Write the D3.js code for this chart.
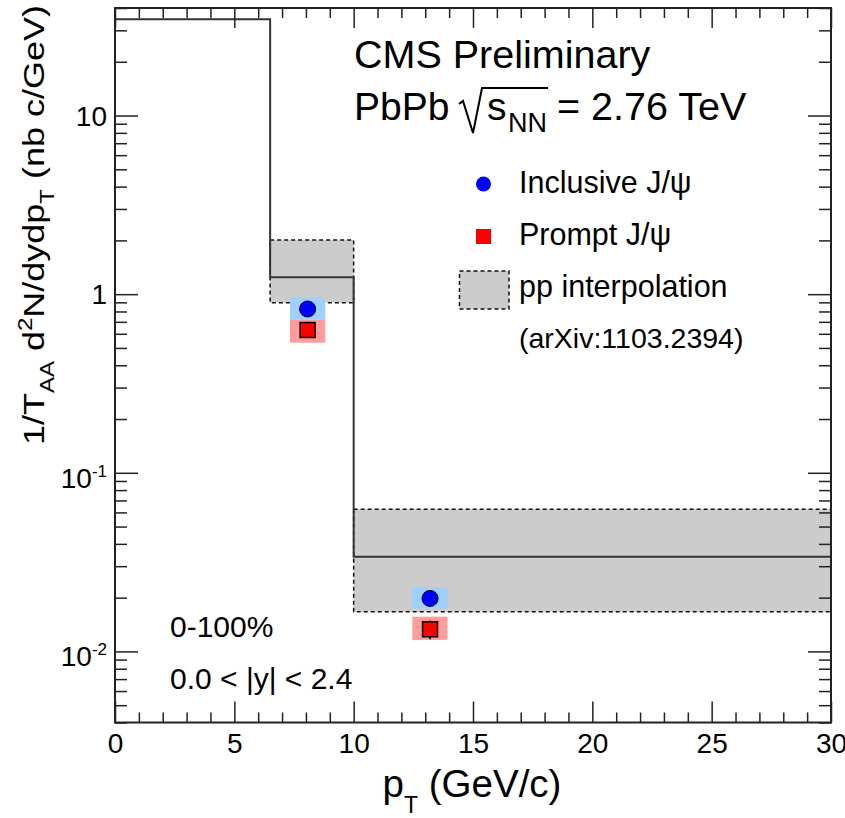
<!DOCTYPE html>
<html>
<head>
<meta charset="utf-8">
<script src="https://cdn.jsdelivr.net/npm/d3@7"></script>
<style>
  html, body { margin: 0; padding: 0; background: #fff; }
  svg { display: block; }
  text { font-family: "Liberation Sans", Arial, Helvetica, sans-serif; fill: #000; }
</style>
</head>
<body>
<svg id="chart" width="845" height="818"></svg>
<script>
// ---------------- data ----------------
const xDomain = [0, 30];
const yDomain = [0.004, 40];

// pp interpolation histogram (bin edges, central values and band)
const ppEdges   = [0, 6.5, 10, 30];
const ppCentral = [34.6, 1.243, 0.0339];
const ppLow     = [null, 0.896, 0.0167];
const ppHigh    = [null, 2.01, 0.0625];

// PbPb points
const ptPoints    = [8.07, 13.2];
const systXLow    = [7.33, 12.46];
const systXHigh   = [8.81, 13.93];

const inclusive       = [0.826, 0.0198];
const inclStatLow     = [0.80, 0.0190];
const inclStatHigh    = [0.85, 0.0206];
const inclSystLow     = [0.723, 0.0174];
const inclSystHigh    = [0.960, 0.0229];

const prompt          = [0.630, 0.0133];
const promptStatLow   = [0.60, 0.0117];
const promptStatHigh  = [0.66, 0.0149];
const promptSystLow   = [0.535, 0.0116];
const promptSystHigh  = [0.723, 0.01565];

// axis ticks
const xMajorTicks = [0, 5, 10, 15, 20, 25, 30];
const xTickLabels = ["0", "5", "10", "15", "20", "25", "30"];
const yMajorTicks = [0.01, 0.1, 1, 10];
const yTickBase   = ["10", "10", "1", "10"];
const yTickExp    = ["-2", "-1", "", ""];

// legend
const legendLabels = ["Inclusive J/\u03c8", "Prompt J/\u03c8", "pp interpolation", "(arXiv:1103.2394)"];

// ---------------- layout ----------------
const L = 115, R = 831, T = 8, B = 722.5;
const svg = d3.select("#chart");
const x = d3.scaleLinear().domain(xDomain).range([L, R]);
const y = d3.scaleLog().domain(yDomain).range([B, T]);

const xMinor = d3.range(0, 31, 1).filter(v => !xMajorTicks.includes(v));
const yMinor = y.ticks().filter(v => {
  const m = v / Math.pow(10, Math.floor(Math.log10(v) + 1e-9));
  return Math.round(m) !== 1;
});

const FONT_AXIS = 28;

// ---------------- pp bands ----------------
const bandIdx = d3.range(ppCentral.length).filter(i => ppLow[i] != null);
svg.append("g").selectAll("rect").data(bandIdx).join("rect")
  .attr("x", i => x(ppEdges[i]))
  .attr("y", i => y(ppHigh[i]))
  .attr("width", i => x(ppEdges[i + 1]) - x(ppEdges[i]))
  .attr("height", i => y(ppLow[i]) - y(ppHigh[i]))
  .attr("fill", "#cccccc")
  .attr("stroke", "#111")
  .attr("stroke-width", 1.5)
  .attr("stroke-dasharray", "4,3");

// histogram step line
const stepPts = [];
ppCentral.forEach((v, i) => {
  stepPts.push([x(ppEdges[i]), y(v)]);
  stepPts.push([x(ppEdges[i + 1]), y(v)]);
});
svg.append("path")
  .attr("d", d3.line()(stepPts))
  .attr("fill", "none")
  .attr("stroke", "#333")
  .attr("stroke-width", 2);

// ---------------- systematic boxes ----------------
const idx = d3.range(ptPoints.length);
svg.append("g").selectAll("rect").data(idx).join("rect")
  .attr("x", i => x(systXLow[i]))
  .attr("width", i => x(systXHigh[i]) - x(systXLow[i]))
  .attr("y", i => y(inclSystHigh[i]))
  .attr("height", i => y(inclSystLow[i]) - y(inclSystHigh[i]))
  .attr("fill", "#9ecfff");
svg.append("g").selectAll("rect").data(idx).join("rect")
  .attr("x", i => x(systXLow[i]))
  .attr("width", i => x(systXHigh[i]) - x(systXLow[i]))
  .attr("y", i => y(promptSystHigh[i]))
  .attr("height", i => y(promptSystLow[i]) - y(promptSystHigh[i]))
  .attr("fill", "#ff9c9c");

// stat error bars
function bars(lo, hi) {
  svg.append("g").selectAll("line").data(idx).join("line")
    .attr("x1", i => x(ptPoints[i])).attr("x2", i => x(ptPoints[i]))
    .attr("y1", i => y(hi[i])).attr("y2", i => y(lo[i]))
    .attr("stroke", "#000").attr("stroke-width", 1.5);
}
bars(inclStatLow, inclStatHigh);
bars(promptStatLow, promptStatHigh);

// markers
svg.append("g").selectAll("circle").data(idx).join("circle")
  .attr("cx", i => x(ptPoints[i]))
  .attr("cy", i => y(inclusive[i]))
  .attr("r", 8)
  .attr("fill", "#0000ff")
  .attr("stroke", "#000").attr("stroke-width", 1);
svg.append("g").selectAll("rect").data(idx).join("rect")
  .attr("x", i => x(ptPoints[i]) - 7.5)
  .attr("y", i => y(prompt[i]) - 7.5)
  .attr("width", 15).attr("height", 15)
  .attr("fill", "#ff0000")
  .attr("stroke", "#000").attr("stroke-width", 1.5);

// ---------------- axes ----------------
function styleAxis(g) {
  g.select(".domain").remove();
  g.selectAll(".tick line").attr("stroke", "#222").attr("stroke-width", 1.5);
}
// bottom
svg.append("g").attr("transform", `translate(0,${B})`)
  .call(d3.axisBottom(x).tickValues(xMajorTicks).tickSize(-21).tickPadding(11)
    .tickFormat((d, i) => xTickLabels[i]))
  .call(styleAxis)
  .call(g => g.selectAll("text").attr("font-size", FONT_AXIS)
    .style("font-family", '"Liberation Sans", Arial, sans-serif').attr("fill", "#000"));
svg.append("g").attr("transform", `translate(0,${B})`)
  .call(d3.axisBottom(x).tickValues(xMinor).tickSize(-10).tickFormat(""))
  .call(styleAxis);
// top
svg.append("g").attr("transform", `translate(0,${T})`)
  .call(d3.axisTop(x).tickValues(xMajorTicks).tickSize(-20).tickFormat(""))
  .call(styleAxis);
svg.append("g").attr("transform", `translate(0,${T})`)
  .call(d3.axisTop(x).tickValues(xMinor).tickSize(-10).tickFormat(""))
  .call(styleAxis);
// left
svg.append("g").attr("transform", `translate(${L},0)`)
  .call(d3.axisLeft(y).tickValues(yMajorTicks).tickSize(-23).tickFormat(""))
  .call(styleAxis);
svg.append("g").attr("transform", `translate(${L},0)`)
  .call(d3.axisLeft(y).tickValues(yMinor).tickSize(-12).tickFormat(""))
  .call(styleAxis);
// right
svg.append("g").attr("transform", `translate(${R},0)`)
  .call(d3.axisRight(y).tickValues(yMajorTicks).tickSize(-23).tickFormat(""))
  .call(styleAxis);
svg.append("g").attr("transform", `translate(${R},0)`)
  .call(d3.axisRight(y).tickValues(yMinor).tickSize(-12).tickFormat(""))
  .call(styleAxis);

// y tick labels with exponents
const yl = svg.append("g").selectAll("text").data(yMajorTicks).join("text")
  .attr("x", L - 8)
  .attr("y", (d, i) => y(d) + (yTickExp[i] ? 15 : 10))
  .attr("text-anchor", "end")
  .attr("font-size", FONT_AXIS);
yl.each(function(d, i) {
  const t = d3.select(this);
  t.append("tspan").text(yTickBase[i]);
  if (yTickExp[i]) {
    t.append("tspan").attr("font-size", 17).attr("dy", -11).text(yTickExp[i]);
  }
});

// frame
svg.append("rect")
  .attr("x", L).attr("y", T).attr("width", R - L).attr("height", B - T)
  .attr("fill", "none").attr("stroke", "#222").attr("stroke-width", 2);

// ---------------- axis titles ----------------
const xt = svg.append("text")
  .attr("x", (L + R) / 2 - 1).attr("y", 797)
  .attr("text-anchor", "middle").attr("font-size", 38.5);
xt.append("tspan").text("p");
xt.append("tspan").attr("font-size", 23).attr("dy", 16).text("T");
xt.append("tspan").attr("dy", -16).text(" (GeV/c)");

const yt = svg.append("text")
  .attr("transform", "translate(44,5) rotate(-90) scale(1.2,1)")
  .attr("text-anchor", "end").attr("font-size", 30);
yt.append("tspan").text("1/T");
yt.append("tspan").attr("font-size", 20).attr("dy", 10).text("AA");
yt.append("tspan").attr("dy", -10).text(" d");
yt.append("tspan").attr("font-size", 20).attr("dy", -12).text("2");
yt.append("tspan").attr("dy", 12).text("N/dydp");
yt.append("tspan").attr("font-size", 20).attr("dy", 10).text("T");
yt.append("tspan").attr("dy", -10).text(" (nb c/GeV)");

// ---------------- annotations ----------------
svg.append("text").attr("x", 354).attr("y", 68).attr("font-size", 39.5).text("CMS Preliminary");

svg.append("text").attr("x", 354).attr("y", 120).attr("font-size", 39).text("PbPb");
svg.append("path")
  .attr("d", "M459,104 L463,101 L473,133 L482,88 H548")
  .attr("fill", "none").attr("stroke", "#000").attr("stroke-width", 2);
svg.append("text").attr("x", 487).attr("y", 120).attr("font-size", 39).text("s");
svg.append("text").attr("x", 508).attr("y", 132).attr("font-size", 27).text("NN");
svg.append("text").attr("x", 557).attr("y", 120).attr("font-size", 39.5).text("= 2.76 TeV");

svg.append("text").attr("x", 170).attr("y", 637).attr("font-size", 30).text("0-100%");
svg.append("text").attr("x", 170).attr("y", 689).attr("font-size", 30).text("0.0 < |y| < 2.4");

// ---------------- legend ----------------
const legX = 519, legBase = [192.5, 244.5, 297, 348];
const legSize = [30.5, 30.5, 30.5, 28.5];
svg.append("g").selectAll("text").data(legendLabels).join("text")
  .attr("x", legX).attr("y", (d, i) => legBase[i])
  .attr("font-size", (d, i) => legSize[i]).text(d => d);
svg.append("circle").attr("cx", 483.5).attr("cy", 184).attr("r", 7.5).attr("fill", "#0000ff");
svg.append("rect").attr("x", 476).attr("y", 229).attr("width", 15).attr("height", 15).attr("fill", "#ff0000");
svg.append("rect").attr("x", 459.5).attr("y", 271).attr("width", 49.5).attr("height", 38)
  .attr("fill", "#cccccc").attr("stroke", "#111").attr("stroke-width", 1.5).attr("stroke-dasharray", "4,3");
</script>
</body>
</html>
